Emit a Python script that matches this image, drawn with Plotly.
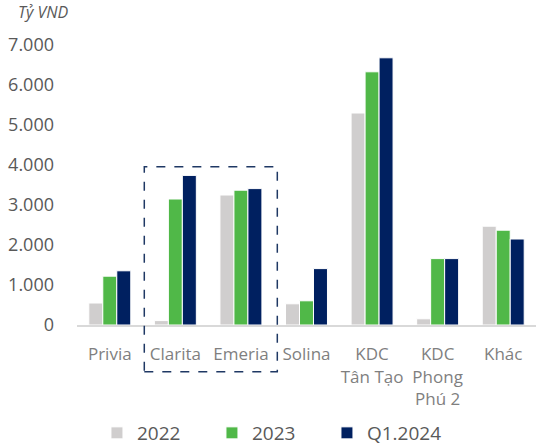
import plotly.graph_objects as go

categories = ["Privia", "Clarita", "Emeria", "Solina", "KDC<br>Tân Tạo", "KDC<br>Phong<br>Phú 2", "Khác"]
series_names = ["2022", "2023", "Q1.2024"]
v2022 = [550, 110, 3250, 530, 5300, 155, 2470]
v2023 = [1220, 3150, 3370, 605, 6330, 1660, 2370]
vq1 = [1355, 3740, 3410, 1410, 6680, 1660, 2150]
colors = ["#d0cece", "#50b848", "#002060"]
y_tickvals = [0, 1000, 2000, 3000, 4000, 5000, 6000, 7000]
y_ticktext = ["0", "1.000", "2.000", "3.000", "4.000", "5.000", "6.000", "7.000"]
unit_label = "Tỷ VND"

FONT = "Open Sans"

fig = go.Figure()
for name, vals, col in zip(series_names, [v2022, v2023, vq1], colors):
    fig.add_trace(go.Bar(x=categories, y=vals, name=name,
                         marker=dict(color=col, line=dict(color="white", width=1))))

fig.update_layout(
    width=536, height=446,
    margin=dict(l=77, r=0, t=25, b=121, autoexpand=False),
    paper_bgcolor="white", plot_bgcolor="white",
    barmode="group", bargap=0.36, bargroupgap=0,
    font=dict(family=FONT, color="#595959"),
    title=dict(text=unit_label, x=18/536, xanchor="left", xref="container",
               y=1-12/446, yanchor="middle", yref="container",
               font=dict(family=FONT, size=16, style="italic", color="#595959")),
    xaxis=dict(showline=True, linecolor="#d9d9d9", linewidth=2, ticks="",
               tickfont=dict(family=FONT, size=17, color="#7f7f7f"),
               ticklabelstandoff=13, showgrid=False, zeroline=False),
    yaxis=dict(range=[0, 7500], tickvals=y_tickvals, ticktext=y_ticktext,
               showgrid=False, zeroline=False, showline=False, ticks="",
               ticklabelstandoff=22,
               tickfont=dict(family=FONT, size=18, color="#595959")),
    legend=dict(orientation="h", x=0.0435, xanchor="left", y=-0.36, yanchor="middle",
                font=dict(family=FONT, size=19, color="#595959"),
                itemwidth=30, entrywidth=70, entrywidthmode="pixels",
                traceorder="normal"),
    showlegend=True,
)

# dashed highlight box around Clarita & Emeria
fig.add_shape(type="rect", xref="paper", yref="paper",
              x0=0.1466, x1=0.4364, y0=-0.1557, y1=0.5277,
              line=dict(color="#1f3864", width=1.5, dash="dash"), fillcolor="rgba(0,0,0,0)")

fig.write_html("out.html")
